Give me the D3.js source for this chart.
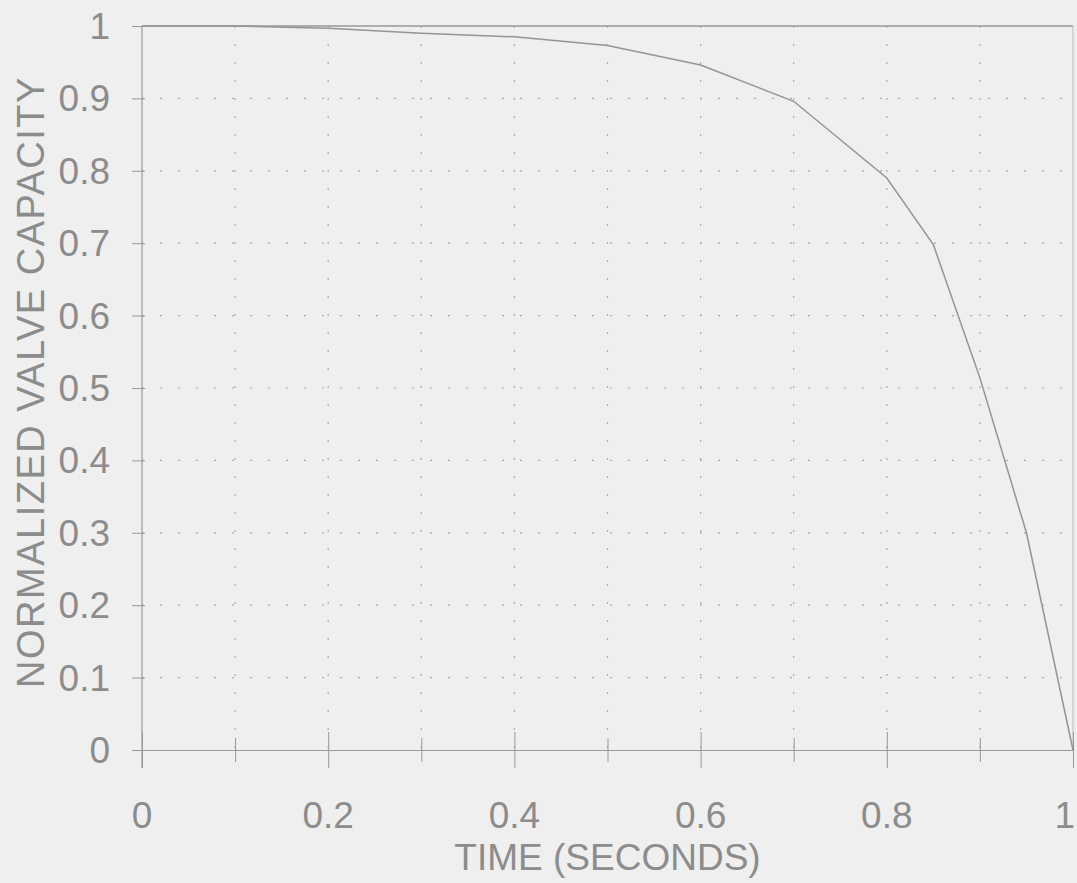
<!DOCTYPE html>
<html>
<head>
<meta charset="utf-8">
<script src="https://cdn.jsdelivr.net/npm/d3@7"></script>
<style>
  body { margin: 0; background: #efefef; }
  svg { display: block; }
  text { font-family: "Liberation Sans", Arial, sans-serif; fill: #8c8c8c; }
</style>
</head>
<body>
<div id="chart"></div>
<script>
// Chart data
var timeSec = [0, 0.1, 0.2, 0.3, 0.4, 0.5, 0.6, 0.7, 0.8, 0.85, 0.9, 0.95, 1.0];
var capacity = [1.0, 1.0, 0.997, 0.99, 0.985, 0.973, 0.946, 0.896, 0.79, 0.698, 0.514, 0.30, 0.0];
var xTickLabels = [0, 0.2, 0.4, 0.6, 0.8, 1];
var yTickLabels = [0, 0.1, 0.2, 0.3, 0.4, 0.5, 0.6, 0.7, 0.8, 0.9, 1];
var gridSteps = [0.1, 0.2, 0.3, 0.4, 0.5, 0.6, 0.7, 0.8, 0.9];

// Set svg height and width
var svgWidth = 1077;
var svgHeight = 883;

var margin = { top: 26, right: 4, bottom: 133, left: 142 };
var chartWidth = svgWidth - margin.left - margin.right;
var chartHeight = svgHeight - margin.top - margin.bottom;

var svg = d3.select("#chart")
    .append("svg")
    .attr("width", svgWidth)
    .attr("height", svgHeight);

var chartGroup = svg.append("g")
    .attr("transform", `translate(${margin.left}, ${margin.top})`);

var xScale = d3.scaleLinear().domain([0, 1]).range([0, chartWidth]);
var yScale = d3.scaleLinear().domain([0, 1]).range([chartHeight, 0]);

var axisColor = "#999";

// Dotted grid
chartGroup.append("g")
    .selectAll("line")
    .data(gridSteps)
    .enter()
    .append("line")
    .attr("x1", d => xScale(d))
    .attr("x2", d => xScale(d))
    .attr("y1", 0)
    .attr("y2", chartHeight)
    .attr("stroke", "#aaa")
    .attr("stroke-width", 1.2)
    .attr("stroke-dasharray", "2,16");

chartGroup.append("g")
    .selectAll("line")
    .data(gridSteps)
    .enter()
    .append("line")
    .attr("x1", 0)
    .attr("x2", chartWidth)
    .attr("y1", d => yScale(d))
    .attr("y2", d => yScale(d))
    .attr("stroke", "#aaa")
    .attr("stroke-width", 1.2)
    .attr("stroke-dasharray", "2,16");

// Frame: top and right borders
chartGroup.append("line")
    .attr("x1", 0).attr("x2", chartWidth)
    .attr("y1", 0).attr("y2", 0)
    .attr("stroke", axisColor).attr("stroke-width", 1.5);
chartGroup.append("line")
    .attr("x1", chartWidth).attr("x2", chartWidth)
    .attr("y1", 0).attr("y2", chartHeight)
    .attr("stroke", "#bbb").attr("stroke-width", 1);

// Bottom axis with crossing ticks
var bottomAxis = d3.axisBottom(xScale)
    .tickValues(d3.range(0, 11).map(i => i / 10))
    .tickSize(0)
    .tickFormat("");
var xAxisG = chartGroup.append("g")
    .attr("transform", `translate(0, ${chartHeight})`)
    .call(bottomAxis);
xAxisG.select(".domain").attr("stroke", axisColor).attr("stroke-width", 1.2);
xAxisG.selectAll(".tick line")
    .attr("stroke", axisColor)
    .attr("y1", (d, i) => i % 2 === 0 ? -18 : -12)
    .attr("y2", (d, i) => i % 2 === 0 ? 18 : 12);

// Left axis
var leftAxis = d3.axisLeft(yScale)
    .tickValues(yTickLabels)
    .tickSize(0)
    .tickFormat("");
var yAxisG = chartGroup.append("g").call(leftAxis);
yAxisG.select(".domain").remove();
chartGroup.append("line")
    .attr("x1", 0).attr("x2", 0)
    .attr("y1", 0).attr("y2", chartHeight + 18)
    .attr("stroke", axisColor).attr("stroke-width", 1.2);
yAxisG.selectAll(".tick line")
    .attr("stroke", axisColor)
    .attr("x1", -10)
    .attr("x2", 3);

// Tick labels (last x label pulled in so it stays on the page)
chartGroup.append("g")
    .selectAll("text")
    .data(xTickLabels)
    .enter()
    .append("text")
    .attr("x", d => d === 1 ? xScale(d) + 2 : xScale(d))
    .attr("y", chartHeight + 78)
    .attr("text-anchor", d => d === 1 ? "end" : "middle")
    .style("font-size", "37px")
    .text(d => d);

chartGroup.append("g")
    .selectAll("text")
    .data(yTickLabels)
    .enter()
    .append("text")
    .attr("x", -32)
    .attr("y", d => yScale(d) + 13)
    .attr("text-anchor", "end")
    .style("font-size", "37px")
    .text(d => d);

// Curve
var line = d3.line()
    .x((d, i) => xScale(timeSec[i]))
    .y(d => yScale(d));

chartGroup.append("path")
    .datum(capacity)
    .attr("d", line)
    .attr("fill", "none")
    .attr("stroke", "#949494")
    .attr("stroke-width", 1.5);

// Axis titles
svg.append("text")
    .attr("x", margin.left + chartWidth / 2)
    .attr("y", 870)
    .attr("text-anchor", "middle")
    .style("font-size", "37px")
    .text("TIME (SECONDS)");

svg.append("text")
    .attr("transform", "translate(44, 382) rotate(-90)")
    .attr("text-anchor", "middle")
    .style("font-size", "38px")
    .style("letter-spacing", "1.5px")
    .text("NORMALIZED VALVE CAPACITY");
</script>
</body>
</html>
